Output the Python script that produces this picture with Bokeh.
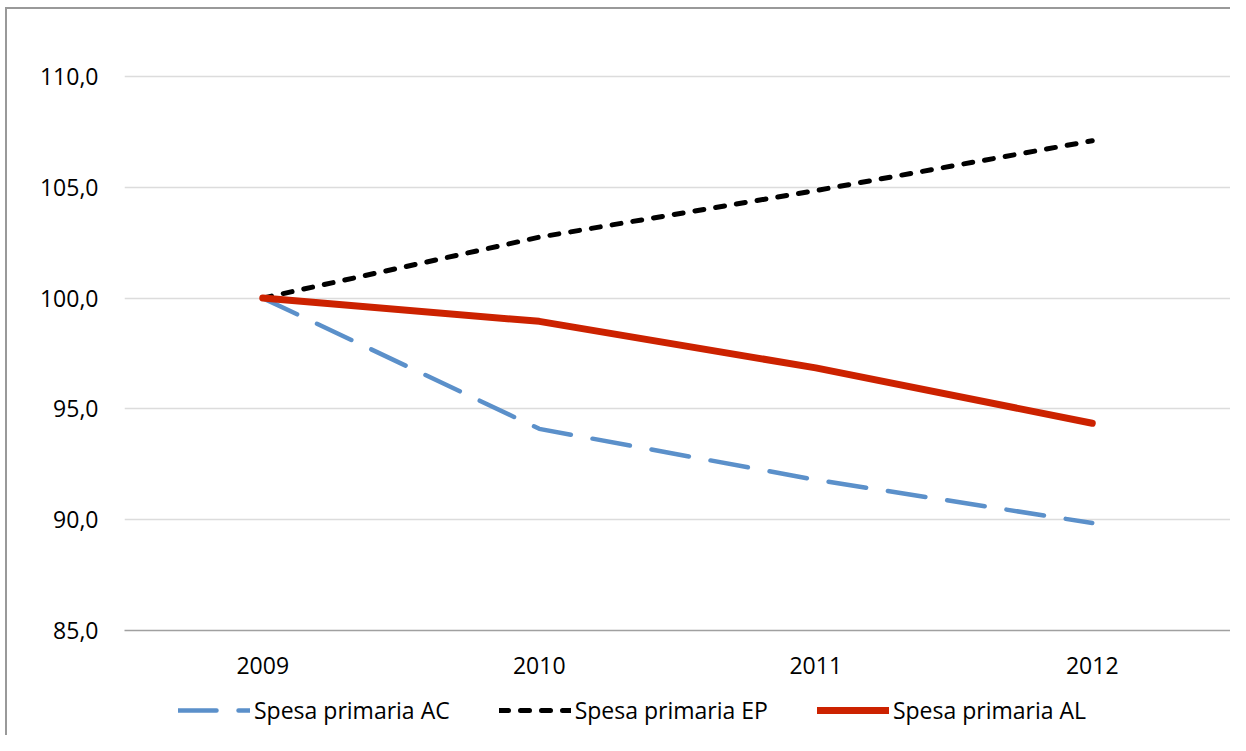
from bokeh.plotting import figure
from bokeh.layouts import column
from bokeh.models import FactorRange, Range1d, FixedTicker, CustomJSTickFormatter, Legend, LegendItem
from bokeh.embed import file_html
from bokeh.resources import INLINE

years = ["2009", "2010", "2011", "2012"]
spesa_ac = [100.0, 94.1, 91.8, 89.85]
spesa_ep = [100.0, 102.75, 104.85, 107.1]
spesa_al = [100.0, 98.95, 96.85, 94.35]
y_ticks = [85, 90, 95, 100, 105, 110]
series_labels = ["Spesa primaria AC", "Spesa primaria EP", "Spesa primaria AL"]

FONT = "Open Sans"
FS = "23px"
STYLES = [
    dict(line_color="#5B90CA", line_width=4.5, line_dash="38 22", line_cap="round", line_join="round"),
    dict(line_color="#000000", line_width=5, line_dash="9 12", line_cap="round", line_join="round"),
    dict(line_color="#CC2200", line_width=7, line_cap="round", line_join="round"),
]
SERIES = [spesa_ac, spesa_ep, spesa_al]

W = 1223
p = figure(width=W, height=681, output_backend="svg", toolbar_location=None,
           x_range=FactorRange(*years, range_padding=0),
           y_range=Range1d(85, 110.18),
           min_border_left=117, min_border_right=0, min_border_top=63, min_border_bottom=60)
p.outline_line_color = None
p.background_fill_color = "white"
p.border_fill_color = "white"

for vals, st in zip(SERIES, STYLES):
    p.line(years, vals, **st)

p.xgrid.grid_line_color = None
p.ygrid.grid_line_color = "#dcdcdc"
p.ygrid.grid_line_width = 1.5
p.ygrid.ticker = FixedTicker(ticks=y_ticks)

p.yaxis.ticker = FixedTicker(ticks=y_ticks)
p.yaxis.formatter = CustomJSTickFormatter(code="return tick.toFixed(1).replace('.', ',');")
p.yaxis.axis_line_color = None
p.yaxis.major_tick_line_color = None
p.yaxis.minor_tick_line_color = None
p.yaxis.major_tick_out = 0
p.yaxis.major_label_standoff = 26

p.xaxis.axis_line_color = "#a0a0a0"
p.xaxis.axis_line_width = 1.5
p.xaxis.major_tick_line_color = None
p.xaxis.major_tick_out = 0
p.xaxis.major_label_standoff = 26

for ax in (p.xaxis[0], p.yaxis[0]):
    ax.major_label_text_font = FONT
    ax.major_label_text_font_size = FS
    ax.major_label_text_color = "#000000"

# legend strip (lines drawn off-frame, only their legend glyphs are visible)
lg = figure(width=W, height=45, output_backend="svg", toolbar_location=None,
            x_range=FactorRange(*years, range_padding=0), y_range=Range1d(0, 1),
            x_axis_location=None, y_axis_location=None,
            min_border_left=0, min_border_right=0, min_border_top=0, min_border_bottom=0)
lg.grid.visible = False
lg.outline_line_color = None
lg.border_fill_color = "white"
lg.background_fill_color = "white"
items = []
for lab, vals, st in zip(series_labels, SERIES, STYLES):
    r = lg.line(years, vals, **st)
    items.append(LegendItem(label=lab, renderers=[r]))
legend = Legend(items=items, orientation="horizontal", location=(54, 9))
legend.glyph_width = 72
legend.glyph_height = 20
legend.label_standoff = 4
legend.spacing = 49
legend.padding = 2
legend.margin = 0
legend.border_line_color = None
legend.background_fill_alpha = 0
legend.label_text_font = FONT
legend.label_text_font_size = FS
legend.label_text_color = "#000000"
lg.add_layout(legend, "center")

layout = column(p, lg, spacing=0)
layout.styles = {"margin-left": "5px", "margin-top": "7px",
                 "border-left": "2px solid #999999", "border-top": "2px solid #999999"}

open("out.html", "w").write(file_html(layout, INLINE))
